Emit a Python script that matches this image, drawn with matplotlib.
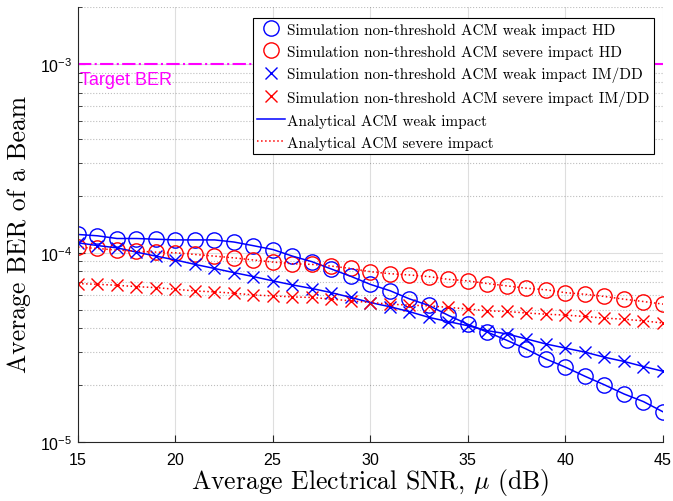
import numpy as np
import matplotlib
matplotlib.use("Agg")
import matplotlib.pyplot as plt
from matplotlib.ticker import FixedLocator, FixedFormatter, LogLocator, NullFormatter

plt.rcParams['mathtext.fontset'] = 'cm'
plt.rcParams['font.family'] = 'serif'
plt.rcParams['font.serif'] = ['cmr10', 'DejaVu Serif']
plt.rcParams['axes.formatter.use_mathtext'] = True

# SNR in dB
snr = np.arange(15, 46)

# simulation, non-threshold ACM
sim_weak_hd = [1.25e-4, 1.23e-4, 1.19e-4, 1.19e-4, 1.18e-4, 1.17e-4, 1.17e-4, 1.17e-4,
               1.14e-4, 1.09e-4, 1.04e-4, 9.6e-5, 8.97e-5, 8.2e-5, 7.5e-5, 6.8e-5,
               6.3e-5, 5.7e-5, 5.26e-5, 4.66e-5, 4.18e-5, 3.8e-5, 3.44e-5, 3.09e-5,
               2.74e-5, 2.48e-5, 2.22e-5, 2.0e-5, 1.79e-5, 1.63e-5, 1.44e-5]
sim_severe_hd = [1.072e-4, 1.054e-4, 1.033e-4, 1.02e-4, 1.008e-4, 1.0e-4, 9.8e-5, 9.6e-5,
                 9.4e-5, 9.16e-5, 8.93e-5, 8.75e-5, 8.68e-5, 8.5e-5, 8.26e-5, 7.94e-5,
                 7.75e-5, 7.63e-5, 7.48e-5, 7.23e-5, 7.1e-5, 6.87e-5, 6.68e-5, 6.49e-5,
                 6.37e-5, 6.15e-5, 6.03e-5, 5.87e-5, 5.68e-5, 5.52e-5, 5.35e-5]
sim_weak_imdd = [1.129e-4, 1.092e-4, 1.062e-4, 1.008e-4, 9.6e-5, 9.16e-5, 8.68e-5, 8.26e-5,
                 7.85e-5, 7.48e-5, 7.1e-5, 6.76e-5, 6.47e-5, 6.15e-5, 5.8e-5, 5.45e-5,
                 5.18e-5, 4.88e-5, 4.55e-5, 4.32e-5, 4.11e-5, 3.87e-5, 3.72e-5, 3.5e-5,
                 3.29e-5, 3.13e-5, 2.98e-5, 2.8e-5, 2.66e-5, 2.5e-5, 2.36e-5]
sim_severe_imdd = [6.87e-5, 6.81e-5, 6.73e-5, 6.62e-5, 6.54e-5, 6.41e-5, 6.28e-5, 6.21e-5,
                   6.11e-5, 5.98e-5, 5.91e-5, 5.84e-5, 5.8e-5, 5.68e-5, 5.57e-5, 5.45e-5,
                   5.35e-5, 5.28e-5, 5.24e-5, 5.14e-5, 5.04e-5, 4.93e-5, 4.89e-5, 4.8e-5,
                   4.73e-5, 4.68e-5, 4.6e-5, 4.51e-5, 4.45e-5, 4.36e-5, 4.25e-5]

# analytical curves (they sit on the simulation points)
ana_weak_hd = sim_weak_hd
ana_weak_imdd = sim_weak_imdd
ana_severe_hd = sim_severe_hd
ana_severe_imdd = sim_severe_imdd

target_ber = 1e-3

fig = plt.figure(figsize=(6.73, 5.02), dpi=100)
ax = fig.add_axes([0.1159, 0.1181, 0.8692, 0.866])

ax.axhline(target_ber, color='#ff00ff', ls='-.', lw=1.5, zorder=1)
ax.text(15.1, 8.3e-4, 'Target BER', color='#ff00ff', fontsize=13,
        family='Liberation Sans', va='center', ha='left')

ax.plot(snr, sim_weak_hd, 'o', mfc='none', mec='b', ms=11, mew=1.0,
        label='Simulation non-threshold ACM weak impact HD')
ax.plot(snr, sim_severe_hd, 'o', mfc='none', mec='r', ms=11, mew=1.0,
        label='Simulation non-threshold ACM severe impact HD')
ax.plot(snr, sim_weak_imdd, 'x', color='b', ms=8, mew=1.0,
        label='Simulation non-threshold ACM weak impact IM/DD')
ax.plot(snr, sim_severe_imdd, 'x', color='r', ms=8, mew=1.0,
        label='Simulation non-threshold ACM severe impact IM/DD')
ax.plot(snr, ana_weak_hd, '-', color='b', lw=1.1, label='Analytical ACM weak impact')
ax.plot(snr, ana_weak_imdd, '-', color='b', lw=1.1)
ax.plot(snr, ana_severe_hd, ':', color='r', lw=1.1, label='Analytical ACM severe impact')
ax.plot(snr, ana_severe_imdd, ':', color='r', lw=1.1)

ax.set_yscale('log')
ax.set_xlim(15, 45)
ax.set_ylim(1e-5, 2e-3)

ax.xaxis.set_major_locator(FixedLocator(np.arange(15, 46, 5)))
ax.yaxis.set_major_locator(FixedLocator([1e-5, 1e-4, 1e-3]))
ax.yaxis.set_major_formatter(FixedFormatter([r'$\mathregular{10^{-5}}$',
                                              r'$\mathregular{10^{-4}}$',
                                              r'$\mathregular{10^{-3}}$']))
ax.yaxis.set_minor_locator(LogLocator(base=10, subs=np.arange(2, 10)))
ax.yaxis.set_minor_formatter(NullFormatter())

for lab in ax.get_xticklabels() + ax.get_yticklabels():
    lab.set_family('Liberation Sans')
    lab.set_fontsize(11.5)

ax.tick_params(which='both', direction='in', top=False, right=False, color='#262626')
ax.tick_params(which='major', length=5, width=0.8)
ax.tick_params(axis='x', which='major', pad=7)
ax.tick_params(axis='y', which='major', pad=4)
ax.tick_params(which='minor', length=3, width=0.6)

ax.grid(True, which='major', color='#262626', alpha=0.15, lw=0.8, ls='-')
ax.grid(True, which='minor', axis='y', color='#262626', alpha=0.3, lw=0.8, ls=':')
ax.set_axisbelow(True)

for s in ['top', 'right']:
    ax.spines[s].set_visible(False)
for s in ['left', 'bottom']:
    ax.spines[s].set_color('#262626')
    ax.spines[s].set_linewidth(0.8)

ax.set_xlabel(r'Average Electrical SNR, $\mu$ (dB)', fontsize=18.5, labelpad=-1)
ax.set_ylabel('Average BER of a Beam', fontsize=18.5, labelpad=3)
ax.yaxis.set_label_coords(-0.08, 0.48)

leg = ax.legend(loc='upper right', bbox_to_anchor=(0.9846, 0.975), fontsize=11,
                frameon=True, fancybox=False, edgecolor='black', framealpha=1,
                handlelength=1.8, handletextpad=0.15, labelspacing=0.52,
                borderpad=0.3, borderaxespad=0.0)
leg.get_frame().set_linewidth(0.8)

fig.savefig('out.png', dpi=100)
